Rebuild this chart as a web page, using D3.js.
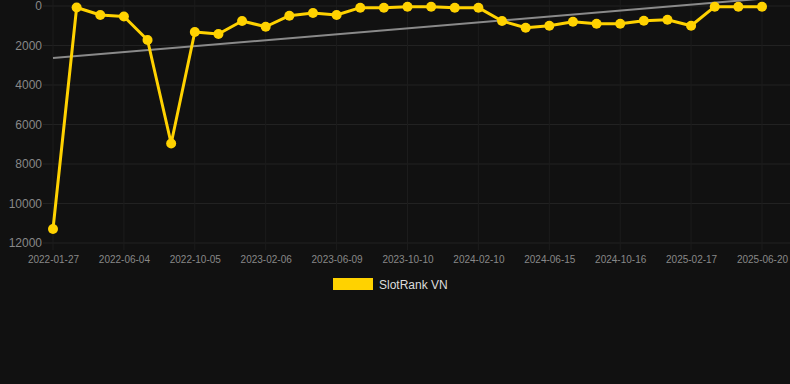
<!DOCTYPE html>
<html><head><meta charset="utf-8">
<script src="https://cdn.jsdelivr.net/npm/d3@7"></script>
<style>html,body{margin:0;padding:0;background:#111111;}svg{display:block;}</style>
</head><body><svg id="c" width="790" height="384"></svg>
<script>
const dates = ["2022-01-27","2022-03-10","2022-04-22","2022-06-04","2022-07-15","2022-08-25","2022-10-05","2022-11-15","2022-12-26","2023-02-06","2023-03-19","2023-04-29","2023-06-09","2023-07-20","2023-08-30","2023-10-10","2023-11-20","2023-12-31","2024-02-10","2024-03-22","2024-05-04","2024-06-15","2024-07-26","2024-09-05","2024-10-16","2024-11-26","2025-01-07","2025-02-17","2025-03-30","2025-05-10","2025-06-20"];
const values = [11290,75,455,530,1720,6960,1315,1420,760,1050,490,355,455,85,85,35,35,85,85,760,1100,1000,795,895,895,745,695,1000,35,35,35];
const tickLabels = ["2022-01-27","2022-06-04","2022-10-05","2023-02-06","2023-06-09","2023-10-10","2024-02-10","2024-06-15","2024-10-16","2025-02-17","2025-06-20"];
const yTicks = [0,2000,4000,6000,8000,10000,12000];
const trend = [2630,-370];
const seriesName = "SlotRank VN";

const svg = d3.select("#c");
const x = d3.scalePoint().domain(dates).range([53,762]);
const y = d3.scaleLinear().domain([0,12000]).range([6,243]);

// grid
svg.append("g").selectAll("line").data(yTicks).join("line")
  .attr("x1",43).attr("x2",790).attr("y1",d=>y(d)).attr("y2",d=>y(d))
  .attr("stroke","#222222").attr("stroke-width",1);
svg.append("g").selectAll("line").data(tickLabels).join("line")
  .attr("x1",d=>x(d)).attr("x2",d=>x(d)).attr("y1",0).attr("y2",250)
  .attr("stroke","#1c1c1c").attr("stroke-width",1);

// y axis labels
const ya = svg.append("g").attr("transform","translate(43,0)")
  .call(d3.axisLeft(y).tickValues(yTicks).tickSize(0).tickPadding(1).tickFormat(d3.format("d")));
ya.select(".domain").remove();
ya.selectAll("text").attr("fill","#888").attr("font-size","12px").attr("font-family","Arial, Liberation Sans, sans-serif");

// x axis labels
const xa = svg.append("g").attr("transform","translate(0,250)")
  .call(d3.axisBottom(x).tickValues(tickLabels).tickSize(0).tickPadding(6));
xa.select(".domain").remove();
xa.selectAll("text").attr("fill","#888").attr("font-size","10px").attr("font-family","Arial, Liberation Sans, sans-serif");

// trend
svg.append("line")
  .attr("x1",x(dates[0])).attr("y1",y(trend[0]))
  .attr("x2",x(dates[dates.length-1])).attr("y2",y(trend[1]))
  .attr("stroke","#8a8a8a").attr("stroke-width",2);

// series
const pts = dates.map((d,i)=>({d,v:values[i]}));
svg.append("path").datum(pts)
  .attr("d",d3.line().x(p=>x(p.d)).y(p=>y(p.v)))
  .attr("fill","none").attr("stroke","#FFD200").attr("stroke-width",3).attr("stroke-linejoin","round");
svg.append("g").selectAll("circle").data(pts).join("circle")
  .attr("cx",p=>x(p.d)).attr("cy",p=>y(p.v)).attr("r",5).attr("fill","#FFD200");

// legend
const lg = svg.append("g");
lg.append("rect").attr("x",333).attr("y",278).attr("width",40).attr("height",12).attr("fill","#FFD200");
lg.append("text").attr("x",379).attr("y",288.5).text(seriesName)
  .attr("fill","#dddddd").attr("font-size","12px").attr("font-family","Arial, Liberation Sans, sans-serif");
</script></body></html>
